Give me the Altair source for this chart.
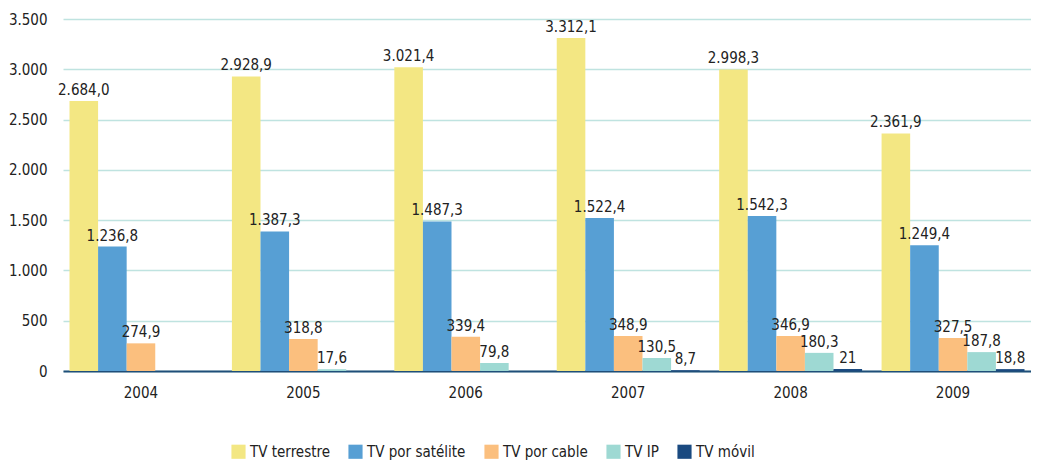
import altair as alt
import pandas as pd

years = ["2004", "2005", "2006", "2007", "2008", "2009"]
series = ["TV terrestre", "TV por satélite", "TV por cable", "TV IP", "TV móvil"]
colors = ["#f3e783", "#579fd4", "#fbbf7e", "#9ed9d3", "#1a4a80"]

terrestre = [2684.0, 2928.9, 3021.4, 3312.1, 2998.3, 2361.9]
satelite = [1236.8, 1387.3, 1487.3, 1522.4, 1542.3, 1249.4]
cable = [274.9, 318.8, 339.4, 348.9, 346.9, 327.5]
tv_ip = [None, 17.6, 79.8, 130.5, 180.3, 187.8]
movil = [None, None, None, 8.7, 21, 18.8]

terrestre_lbl = ["2.684,0", "2.928,9", "3.021,4", "3.312,1", "2.998,3", "2.361,9"]
satelite_lbl = ["1.236,8", "1.387,3", "1.487,3", "1.522,4", "1.542,3", "1.249,4"]
cable_lbl = ["274,9", "318,8", "339,4", "348,9", "346,9", "327,5"]
ip_lbl = [None, "17,6", "79,8", "130,5", "180,3", "187,8"]
movil_lbl = [None, None, None, "8,7", "21", "18,8"]

rows = []
for s, vals, lbls in zip(series,
                         [terrestre, satelite, cable, tv_ip, movil],
                         [terrestre_lbl, satelite_lbl, cable_lbl, ip_lbl, movil_lbl]):
    for y, v, l in zip(years, vals, lbls):
        if v is not None:
            rows.append({"year": y, "series": s, "value": v, "label": l})
df = pd.DataFrame(rows)

FONT = "DejaVu Sans Condensed, Liberation Sans, sans-serif"

x = alt.X("year:N", title=None, sort=years,
          scale=alt.Scale(paddingInner=0.12, paddingOuter=0.04),
          axis=alt.Axis(labelAngle=0, labelFontSize=15, labelPadding=14, ticks=False,
                        domainColor="#1f4e79", domainWidth=2, labelColor="#222222"))
xo = alt.XOffset("series:N", sort=series, scale=alt.Scale(domain=series))

base = alt.Chart(df).encode(x=x, xOffset=xo)

bars = base.mark_bar().encode(
    y=alt.Y("value:Q", title=None,
            scale=alt.Scale(domain=[0, 3500]),
            axis=alt.Axis(values=[0, 500, 1000, 1500, 2000, 2500, 3000, 3500],
                          labelExpr="replace(format(datum.value, ','), ',', '.')",
                          labelFontSize=15, labelPadding=16, ticks=False, domain=False,
                          gridColor="#bfe3e0", gridWidth=1.5, labelColor="#222222")),
    color=alt.Color("series:N", sort=series,
                    scale=alt.Scale(domain=series, range=colors),
                    legend=alt.Legend(title=None, orient="none", direction="horizontal",
                                      legendX=168, legendY=425,
                                      symbolType="square", symbolSize=200, symbolStrokeWidth=0,
                                      labelFontSize=15, columnPadding=18,
                                      labelColor="#222222")),
)

text = base.mark_text(baseline="bottom", dy=-3, fontSize=15, font=FONT, color="#222222").encode(
    y=alt.Y("value:Q"),
    text=alt.Text("label:N"),
)

chart = alt.layer(bars, text).properties(
    width=968, height=352, padding={"left": 0, "top": 4, "right": 0, "bottom": 0}
).configure(font=FONT).configure_view(stroke=None).configure_axis(labelFont=FONT).configure_legend(labelFont=FONT)

chart.save("out.html", embed_options={"renderer": "svg", "actions": False})
